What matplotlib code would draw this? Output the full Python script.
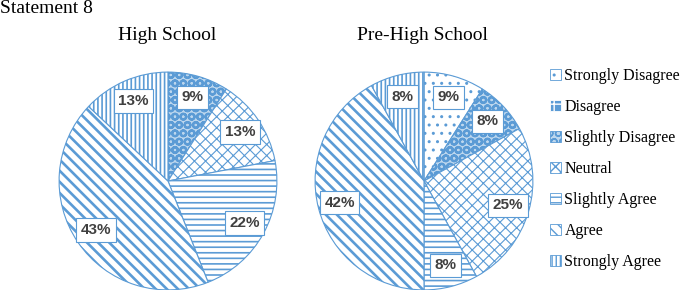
import matplotlib.pyplot as plt
from matplotlib.patches import Patch

plt.rcParams['font.family'] = 'Liberation Serif'
plt.rcParams['hatch.linewidth'] = 1.0

blue = '#5B9BD5'

categories = ['Strongly Disagree', 'Disagree', 'Slightly Disagree', 'Neutral',
              'Slightly Agree', 'Agree', 'Strongly Agree']
high_school = [0, 0, 9, 13, 22, 43, 13]
pre_high_school = [9, 0, 8, 25, 8, 42, 8]

# fill style of each category (hatch, face colour, edge colour, hatch width)
hatches = ['..', '++', 'OO', 'xxx', '---', '\\\\\\', '||||']
faces = ['white', blue, '#BDD7EE', 'white', 'white', 'white', 'white']
edges = [blue, 'white', blue, blue, blue, blue, blue]
hatch_lw = [1.0, 1.0, 1.6, 0.8, 1.2, 1.9, 1.2]

fig = plt.figure(figsize=(6.85, 2.9), dpi=100)


def style_patch(p, i):
    p.set_facecolor(faces[i])
    p.set_edgecolor(edges[i])
    p.set_hatch(hatches[i])
    if hasattr(p, 'set_hatch_linewidth'):
        p.set_hatch_linewidth(hatch_lw[i])
    else:
        p._hatch_linewidth = hatch_lw[i]


def draw_pie(ax, values):
    idx = [i for i, v in enumerate(values) if v > 0]
    vals = [values[i] for i in idx]
    wedges, texts, autotexts = ax.pie(vals, startangle=90, counterclock=False,
                                      autopct=lambda p: f'{p:.0f}%', pctdistance=0.8,
                                      wedgeprops=dict(linewidth=0.8))
    for w, i in zip(wedges, idx):
        style_patch(w, i)
    for t in autotexts:
        t.set_fontfamily('Liberation Sans')
        t.set_fontweight('bold')
        t.set_fontsize(11)
        t.set_color('#404040')
        t.set_bbox(dict(boxstyle='square,pad=0.3', facecolor='white', edgecolor=blue, linewidth=0.8))
    ax.set_xlim(-1.01, 1.01)
    ax.set_ylim(-1.01, 1.01)


ax1 = fig.add_axes([(168 - 110) / 685, (290 - 181 - 110) / 290, 220 / 685, 220 / 290])
draw_pie(ax1, high_school)
ax2 = fig.add_axes([(424 - 110) / 685, (290 - 181 - 110) / 290, 220 / 685, 220 / 290])
draw_pie(ax2, pre_high_school)

fig.text(167 / 685, 1 - 35 / 290, 'High School', fontsize=14, ha='center', va='center')
fig.text(422 / 685, 1 - 35 / 290, 'Pre-High School', fontsize=14, ha='center', va='center')
fig.text(0.0, 1.0, 'Statement 8', fontsize=14, ha='left', va='top')

handles = []
for i in range(len(categories)):
    h = Patch(linewidth=0.6)
    style_patch(h, i)
    handles.append(h)
fig.legend(handles, categories, loc='upper left', bbox_to_anchor=(550 / 685, (290 - 68) / 290),
           frameon=False, fontsize=11.5, handlelength=0.7, handleheight=0.7,
           handletextpad=0.2, labelspacing=0.94, borderaxespad=0, borderpad=0)

fig.savefig('out.png', dpi=100)
